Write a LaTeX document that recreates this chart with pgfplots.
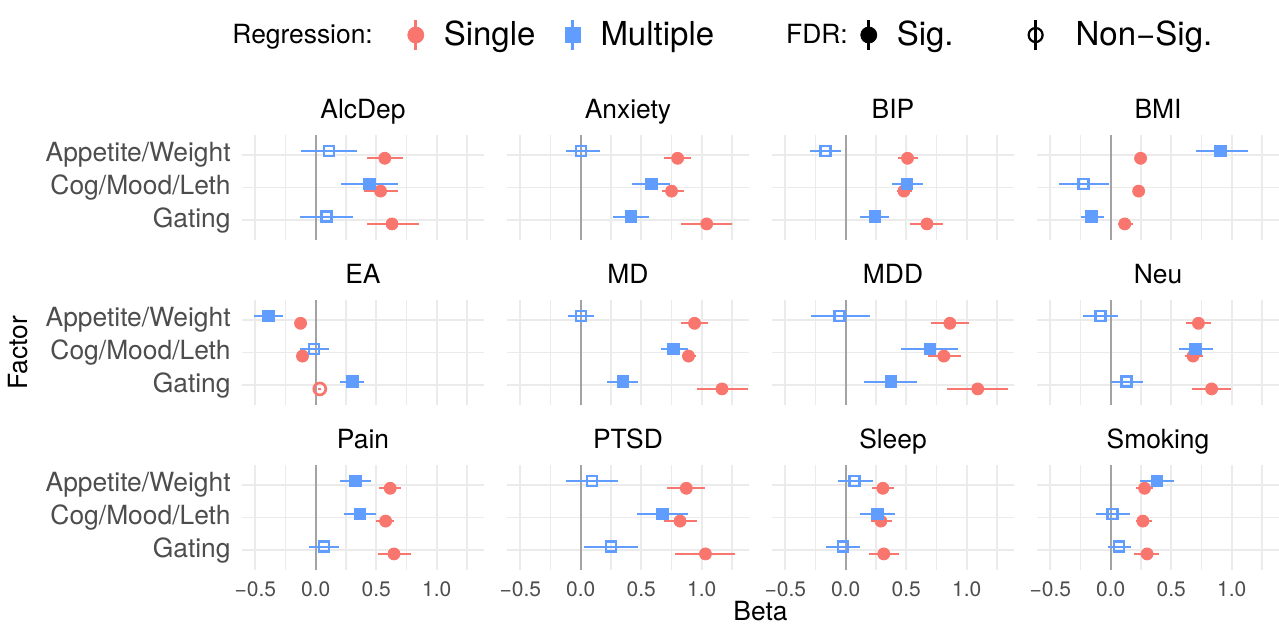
\documentclass[border=0pt]{standalone}
\usepackage{fontspec}
\setmainfont{TeX Gyre Heros}
\usepackage{pgfplots}
\pgfplotsset{compat=1.18}
\usepackage{pgfplotstable}
\usepgfplotslibrary{groupplots}
\usetikzlibrary{calc}

\definecolor{scol}{HTML}{F8766D}
\definecolor{mcol}{HTML}{619CFF}
\definecolor{gridc}{HTML}{EBEBEB}
\definecolor{txt}{HTML}{4D4D4D}
\definecolor{zeroc}{HTML}{A3A3A3}
\newcommand{\fs}[1]{\fontsize{#1}{#1}\selectfont}
\newcommand{\gap}[1]{\rule{#1}{0pt}}

% y = factor (1 Appetite/Weight, 2 Cog/Mood/Leth, 3 Gating)
% m* = multiple regression, s* = single regression; mf/sf: 1 = FDR sig., 0 = non-sig.
\pgfplotstableread{
y mx mlo mhi mf sx slo shi sf
1 0.110 -0.120 0.340 0 0.570 0.420 0.720 1
2 0.445 0.210 0.680 1 0.535 0.400 0.680 1
3 0.088 -0.130 0.310 0 0.630 0.420 0.850 1
}\tAlc
\pgfplotstableread{
y mx mlo mhi mf sx slo shi sf
1 0.000 -0.120 0.160 0 0.800 0.690 0.910 1
2 0.585 0.420 0.740 1 0.750 0.670 0.850 1
3 0.415 0.270 0.560 1 1.040 0.830 1.250 1
}\tAnx
\pgfplotstableread{
y mx mlo mhi mf sx slo shi sf
1 -0.170 -0.300 -0.040 0 0.510 0.430 0.600 1
2 0.505 0.380 0.640 1 0.480 0.420 0.550 1
3 0.240 0.115 0.355 1 0.670 0.530 0.800 1
}\tBip
\pgfplotstableread{
y mx mlo mhi mf sx slo shi sf
1 0.907 0.700 1.130 1 0.246 0.230 0.265 1
2 -0.227 -0.430 -0.016 0 0.230 0.215 0.245 1
3 -0.160 -0.250 -0.057 1 0.115 0.060 0.180 1
}\tBmi
\pgfplotstableread{
y mx mlo mhi mf sx slo shi sf
1 -0.390 -0.510 -0.270 1 -0.126 -0.150 -0.100 1
2 -0.014 -0.130 0.107 0 -0.110 -0.130 -0.090 1
3 0.300 0.200 0.400 1 0.033 0.020 0.045 0
}\tEa
\pgfplotstableread{
y mx mlo mhi mf sx slo shi sf
1 0.000 -0.110 0.110 0 0.940 0.830 1.050 1
2 0.765 0.660 0.885 1 0.890 0.840 0.950 1
3 0.347 0.220 0.475 1 1.167 0.960 1.380 1
}\tMd
\pgfplotstableread{
y mx mlo mhi mf sx slo shi sf
1 -0.050 -0.290 0.197 0 0.860 0.700 1.020 1
2 0.694 0.460 0.930 1 0.810 0.680 0.950 1
3 0.374 0.150 0.590 1 1.090 0.840 1.340 1
}\tMdd
\pgfplotstableread{
y mx mlo mhi mf sx slo shi sf
1 -0.085 -0.230 0.060 0 0.724 0.620 0.830 1
2 0.700 0.566 0.844 1 0.680 0.610 0.765 1
3 0.128 0.005 0.265 0 0.833 0.675 0.995 1
}\tNeu
\pgfplotstableread{
y mx mlo mhi mf sx slo shi sf
1 0.327 0.198 0.453 1 0.615 0.520 0.706 1
2 0.363 0.230 0.500 1 0.577 0.500 0.650 1
3 0.069 -0.055 0.190 0 0.646 0.510 0.790 1
}\tPain
\pgfplotstableread{
y mx mlo mhi mf sx slo shi sf
1 0.093 -0.120 0.306 0 0.872 0.710 1.030 1
2 0.675 0.464 0.888 1 0.820 0.690 0.960 1
3 0.251 0.027 0.470 0 1.030 0.776 1.276 1
}\tPtsd
\pgfplotstableread{
y mx mlo mhi mf sx slo shi sf
1 0.074 -0.068 0.224 0 0.306 0.217 0.400 1
2 0.260 0.120 0.410 1 0.290 0.210 0.380 1
3 -0.022 -0.160 0.120 0 0.314 0.190 0.437 1
}\tSleep
\pgfplotstableread{
y mx mlo mhi mf sx slo shi sf
1 0.380 0.238 0.525 1 0.279 0.210 0.350 1
2 0.014 -0.120 0.156 0 0.265 0.205 0.340 1
3 0.068 -0.027 0.170 0 0.300 0.190 0.400 1
}\tSmok

\pgfplotsset{
  panel/.style={
    scale only axis, width=121pt, height=52.5pt,
    xmin=-0.61, xmax=1.39, ymin=0.4, ymax=3.6, y dir=reverse,
    xtick={-0.5,0,0.5,1}, minor xtick={-0.75,-0.25,0.25,0.75,1.25},
    ytick={1,2,3},
    xmajorgrids, xminorgrids, ymajorgrids,
    major grid style={gridc, line width=0.85pt},
    minor grid style={gridc, line width=0.6pt},
    axis line style={draw=none},
    major tick length=0pt, minor tick length=0pt,
    xticklabels={}, yticklabels={},
    title style={font=\fs{13.2}, anchor=base, yshift=2pt},
    xticklabel style={font=\fs{10.5}, txt, anchor=north, inner sep=0pt, yshift=-5.8pt},
    yticklabel style={font=\fs{13.2}, txt, anchor=east, inner sep=0pt, xshift=-5.5pt},
  },
  leftcol/.style={yticklabels={Appetite/Weight,Cog/Mood/Leth,Gating}},
  bottomrow/.style={xticklabels={−0.5,0.0,0.5,1.0}},
  zero/.style={forget plot, zeroc, line width=1pt},
  ebar/.style={forget plot, only marks, mark=none, mark size=0pt,
    mark options={draw=none, fill=none},
    error bars/.cd, x dir=both, x explicit, error mark=none,
    error bar style={line width=1.15pt, #1}},
  sfill/.style={forget plot, only marks, scol, mark=*, mark size=3pt,
    mark options={draw=scol, fill=scol}},
  sopen/.style={forget plot, only marks, scol, mark=o, mark size=3pt,
    mark options={draw=scol, fill=none, line width=1.35pt}},
  mfill/.style={forget plot, only marks, mcol, mark=square*, mark size=2.9pt,
    mark options={draw=mcol, fill=mcol}},
  mopen/.style={forget plot, only marks, mcol, mark=square, mark size=2.5pt,
    mark options={draw=mcol, fill=none, line width=1.3pt}},
}

\newcommand{\panelplots}[1]{%
  \addplot[zero] coordinates {(0,0.4) (0,3.6)};
  \addplot[ebar=mcol] table[x=mx, y expr=\thisrow{y}-0.11,
    x error minus expr=\thisrow{mx}-\thisrow{mlo},
    x error plus expr=\thisrow{mhi}-\thisrow{mx}] {#1};
  \addplot[ebar=scol] table[x=sx, y expr=\thisrow{y}+0.11,
    x error minus expr=\thisrow{sx}-\thisrow{slo},
    x error plus expr=\thisrow{shi}-\thisrow{sx}] {#1};
  \addplot[sfill, restrict expr to domain={\thisrow{sf}}{0.5:1.5}]
    table[x=sx, y expr=\thisrow{y}+0.11] {#1};
  \addplot[sopen, restrict expr to domain={\thisrow{sf}}{-0.5:0.5}]
    table[x=sx, y expr=\thisrow{y}+0.11] {#1};
  \addplot[mfill, restrict expr to domain={\thisrow{mf}}{0.5:1.5}]
    table[x=mx, y expr=\thisrow{y}-0.11] {#1};
  \addplot[mopen, restrict expr to domain={\thisrow{mf}}{-0.5:0.5}]
    table[x=mx, y expr=\thisrow{y}-0.11] {#1};
}

\begin{document}
\begin{tikzpicture}
\begin{groupplot}[
  group style={group size=4 by 3, horizontal sep=11.5pt, vertical sep=30pt},
  panel]
\nextgroupplot[title=AlcDep, leftcol,
  legend columns=6,
  legend style={at={(-0.041,1.952)}, anchor=west, draw=none, fill=none,
    inner sep=0pt, column sep=0pt, nodes={inner sep=0pt}, font=\fs{16.5}}]
  \addlegendimage{empty legend}
  \addlegendentry{\fs{13.2}Regression:\gap{12.5pt}}
  \addlegendimage{legend image code/.code={
    \path[draw=none, fill=none] (0pt,-8pt) rectangle (18pt,8pt);
    \draw[scol, line width=1.3pt] (9pt,-7.5pt) -- (9pt,7.5pt);
    \fill[scol] (9pt,0pt) circle (4pt);}}
  \addlegendentry{\gap{5pt}Single\gap{9.5pt}}
  \addlegendimage{legend image code/.code={
    \path[draw=none, fill=none] (0pt,-8pt) rectangle (18pt,8pt);
    \draw[mcol, line width=1.3pt] (9pt,-7.5pt) -- (9pt,7.5pt);
    \fill[mcol] (5.2pt,-3.8pt) rectangle (12.8pt,3.8pt);}}
  \addlegendentry{\gap{5pt}Multiple\gap{36pt}}
  \addlegendimage{empty legend}
  \addlegendentry{\fs{13.2}FDR:\gap{1.5pt}}
  \addlegendimage{legend image code/.code={
    \path[draw=none, fill=none] (0pt,-8pt) rectangle (18pt,8pt);
    \draw[black, line width=1.3pt] (9pt,-7.5pt) -- (9pt,7.5pt);
    \fill[black] (9pt,0pt) circle (4pt);}}
  \addlegendentry{\gap{5pt}Sig.\gap{32pt}}
  \addlegendimage{legend image code/.code={
    \path[draw=none, fill=none] (0pt,-8pt) rectangle (18pt,8pt);
    \draw[black, line width=1.3pt] (9pt,-7.5pt) -- (9pt,7.5pt);
    \draw[black, line width=1.1pt] (9pt,0pt) circle (3.5pt);}}
  \addlegendentry{\gap{11pt}Non−Sig.}
  \panelplots{\tAlc}
\nextgroupplot[title=Anxiety]
  \panelplots{\tAnx}
\nextgroupplot[title=BIP]
  \panelplots{\tBip}
\nextgroupplot[title=BMI]
  \panelplots{\tBmi}
\nextgroupplot[title=EA, leftcol]
  \panelplots{\tEa}
\nextgroupplot[title=MD]
  \panelplots{\tMd}
\nextgroupplot[title=MDD]
  \panelplots{\tMdd}
\nextgroupplot[title=Neu]
  \panelplots{\tNeu}
\nextgroupplot[title=Pain, leftcol, bottomrow]
  \panelplots{\tPain}
\nextgroupplot[title=PTSD, bottomrow]
  \panelplots{\tPtsd}
\nextgroupplot[title=Sleep, bottomrow]
  \panelplots{\tSleep}
\nextgroupplot[title=Smoking, bottomrow]
  \panelplots{\tSmok}
\end{groupplot}
\node[font=\fs{13.2}, anchor=base] at ($(group c2r3.south east)!0.5!(group c3r3.south west)+(0pt,-25.3pt)$) {Beta};
\node[font=\fs{13.2}, rotate=90, anchor=center] at ($(group c1r1.north west)!0.5!(group c1r3.south west)+(-112pt,0pt)$) {Factor};
\pgfresetboundingbox
\path[use as bounding box] ($(group c1r1.north west)+(-121pt,67.5pt)$) rectangle ($(group c4r3.south east)+(0pt,-27pt)$);
\end{tikzpicture}
\end{document}
